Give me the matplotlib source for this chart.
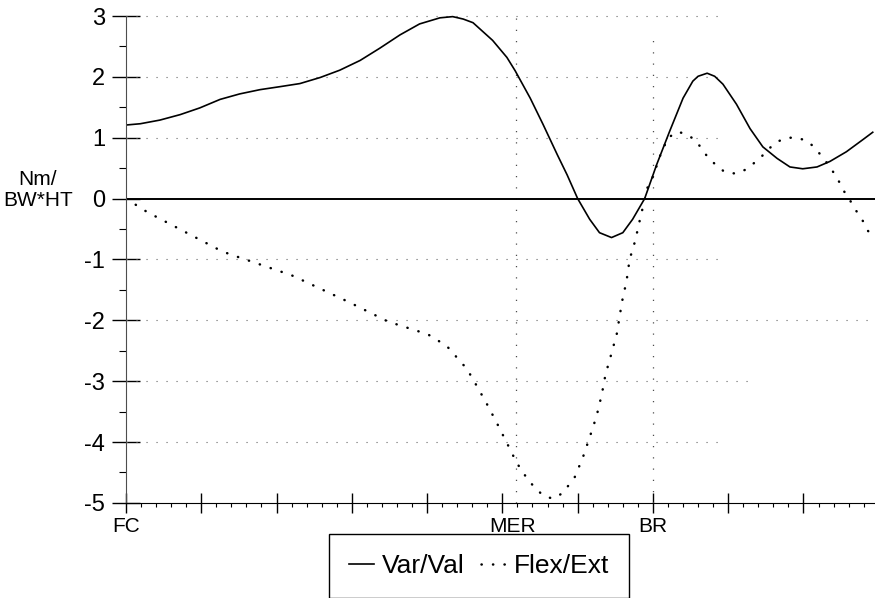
import matplotlib
matplotlib.use('Agg')
import matplotlib.pyplot as plt

plt.rcParams['font.family'] = ['Liberation Sans', 'DejaVu Sans']
plt.rcParams['axes.unicode_minus'] = False

# Var/Val moment curve (x in major-tick units from FC)
varval_x = [0.01, 0.19, 0.45, 0.72, 0.98, 1.25, 1.51, 1.78, 2.05, 2.31, 2.58, 2.84,
            3.11, 3.37, 3.64, 3.90, 4.17, 4.34, 4.48, 4.61, 4.87, 5.06, 5.17, 5.37, 5.54,
            5.73, 5.86, 6.00, 6.16, 6.29, 6.45, 6.60, 6.73, 6.89, 7.05, 7.22, 7.40,
            7.53, 7.60, 7.72, 7.82, 7.93, 8.11, 8.29, 8.46, 8.65, 8.82, 8.99, 9.18, 9.35, 9.57,
            9.79, 9.92]
varval_y = [1.21, 1.23, 1.29, 1.38, 1.49, 1.63, 1.72, 1.79, 1.84, 1.89, 1.99, 2.11,
            2.27, 2.47, 2.69, 2.87, 2.97, 2.99, 2.95, 2.89, 2.60, 2.32, 2.10, 1.65, 1.22,
            0.72, 0.39, 0.00, -0.34, -0.56, -0.64, -0.56, -0.34, 0.00, 0.56, 1.10, 1.65,
            1.93, 2.01, 2.06, 2.01, 1.88, 1.55, 1.15, 0.85, 0.66, 0.52, 0.49, 0.52, 0.61, 0.77,
            0.97, 1.09]

# Flex/Ext moment curve
flexext_x = [0.00, 0.28, 1.25, 1.39, 1.54, 2.20, 2.34, 2.96, 3.48, 4.01, 4.26, 4.53,
             4.67, 4.81, 4.94, 5.07, 5.19, 5.35, 5.54, 5.67, 5.80, 5.96, 6.07, 6.16,
             6.25, 6.32, 6.37, 6.45, 6.52, 6.59, 6.65, 6.69, 6.77, 6.80, 6.87, 6.93,
             7.00, 7.05, 7.09, 7.20, 7.33, 7.46, 7.57, 7.66, 7.74, 7.85, 7.95, 8.10,
             8.22, 8.33, 8.45, 8.54, 8.66, 8.79, 8.92, 9.06, 9.16, 9.26, 9.34, 9.42,
             9.50, 9.56, 9.64, 9.71, 9.79, 9.85, 9.91]
flexext_y = [0.00, -0.22, -0.85, -0.92, -0.98, -1.26, -1.34, -1.70, -2.02, -2.23, -2.42, -2.80,
             -3.10, -3.41, -3.72, -4.04, -4.34, -4.64, -4.88, -4.93, -4.84, -4.58, -4.25, -3.92,
             -3.58, -3.22, -2.89, -2.54, -2.22, -1.69, -1.35, -1.00, -0.67, -0.49, -0.12, 0.19,
             0.36, 0.54, 0.69, 1.00, 1.10, 1.05, 0.95, 0.80, 0.66, 0.54, 0.44, 0.41,
             0.47, 0.57, 0.70, 0.82, 0.94, 1.00, 1.00, 0.94, 0.82, 0.67, 0.54, 0.39,
             0.22, 0.07, -0.07, -0.22, -0.37, -0.52, -0.61]

y_ticks = [-5, -4, -3, -2, -1, 0, 1, 2, 3]
y_ticklabels = ['-5', '-4', '-3', '-2', '-1', '0', '1', '2', '3']
event_labels = ['FC', 'MER', 'BR']
event_label_x = [0.0, 5.14, 7.0]
mer_x = 5.18
br_x = 7.0

fig = plt.figure(figsize=(8.75, 5.98), dpi=100)
ax = fig.add_axes([0.144, 0.159, 0.856, 0.8244])
ax.set_xlim(0, 9.95)
ax.set_ylim(-5, 3.1)

# dotted grid rows (partial, as on the scanned original)
grid_ends = {3: 7.9, 2: 7.9, 1: 7.9, -1: 7.9, -2: 9.9, -3: 8.3, -4: 7.9}
for yv, xe in grid_ends.items():
    ax.plot([0, xe], [yv, yv], color='0.4', lw=0.8, ls=(0, (1, 8)))
ax.plot([mer_x, mer_x], [-5, 3.1], color='0.3', lw=0.9, ls=(0, (1, 8)))
ax.plot([br_x, br_x], [-5, 2.65], color='0.3', lw=0.9, ls=(0, (1, 8)))
ax.axhline(0, color='black', lw=1.4)

ax.plot(varval_x, varval_y, color='black', lw=1.2, label='Var/Val')
ax.plot(flexext_x, flexext_y, color='black', lw=1.8, ls=(0, (0.1, 4.5)),
        dash_capstyle='round', label='Flex/Ext')

for s in ['top', 'right']:
    ax.spines[s].set_visible(False)
ax.spines['left'].set_bounds(-5, 3)
ax.spines['left'].set_color('0.3')

ax.set_yticks(y_ticks)
ax.set_yticklabels(y_ticklabels, fontsize=17)
ax.set_yticks([v + 0.5 for v in y_ticks[:-1]], minor=True)
ax.tick_params(axis='y', which='major', direction='inout', length=20, width=1, pad=5)
ax.tick_params(axis='y', which='minor', direction='out', length=5, width=0.8)

ax.set_xticks(range(0, 10))
ax.set_xticklabels([])
ax.set_xticks([i * 0.2 for i in range(50) if i % 5], minor=True)
ax.tick_params(axis='x', which='major', direction='inout', length=14, width=1)
ax.tick_params(axis='x', which='minor', direction='out', length=3, width=0.8)

for lab, xv in zip(event_labels, event_label_x):
    ax.annotate(lab, xy=(xv, 0), xycoords=('data', 'axes fraction'),
                xytext=(0, -10), textcoords='offset points',
                ha='center', va='top', fontsize=15)

fig.text(38 / 875, 1 - 190 / 598, 'Nm/\nBW*HT', ha='center', va='center',
         fontsize=15, linespacing=1.1)

leg = ax.legend(loc='center', bbox_to_anchor=(479 / 875, 1 - 566 / 598),
                bbox_transform=fig.transFigure, ncol=2, fontsize=19,
                frameon=True, fancybox=False, edgecolor='black', framealpha=1,
                handlelength=0.95, handletextpad=0.3, columnspacing=0.6,
                borderpad=0.75)
leg.get_frame().set_linewidth(1.0)

fig.savefig('out.png', dpi=100)
